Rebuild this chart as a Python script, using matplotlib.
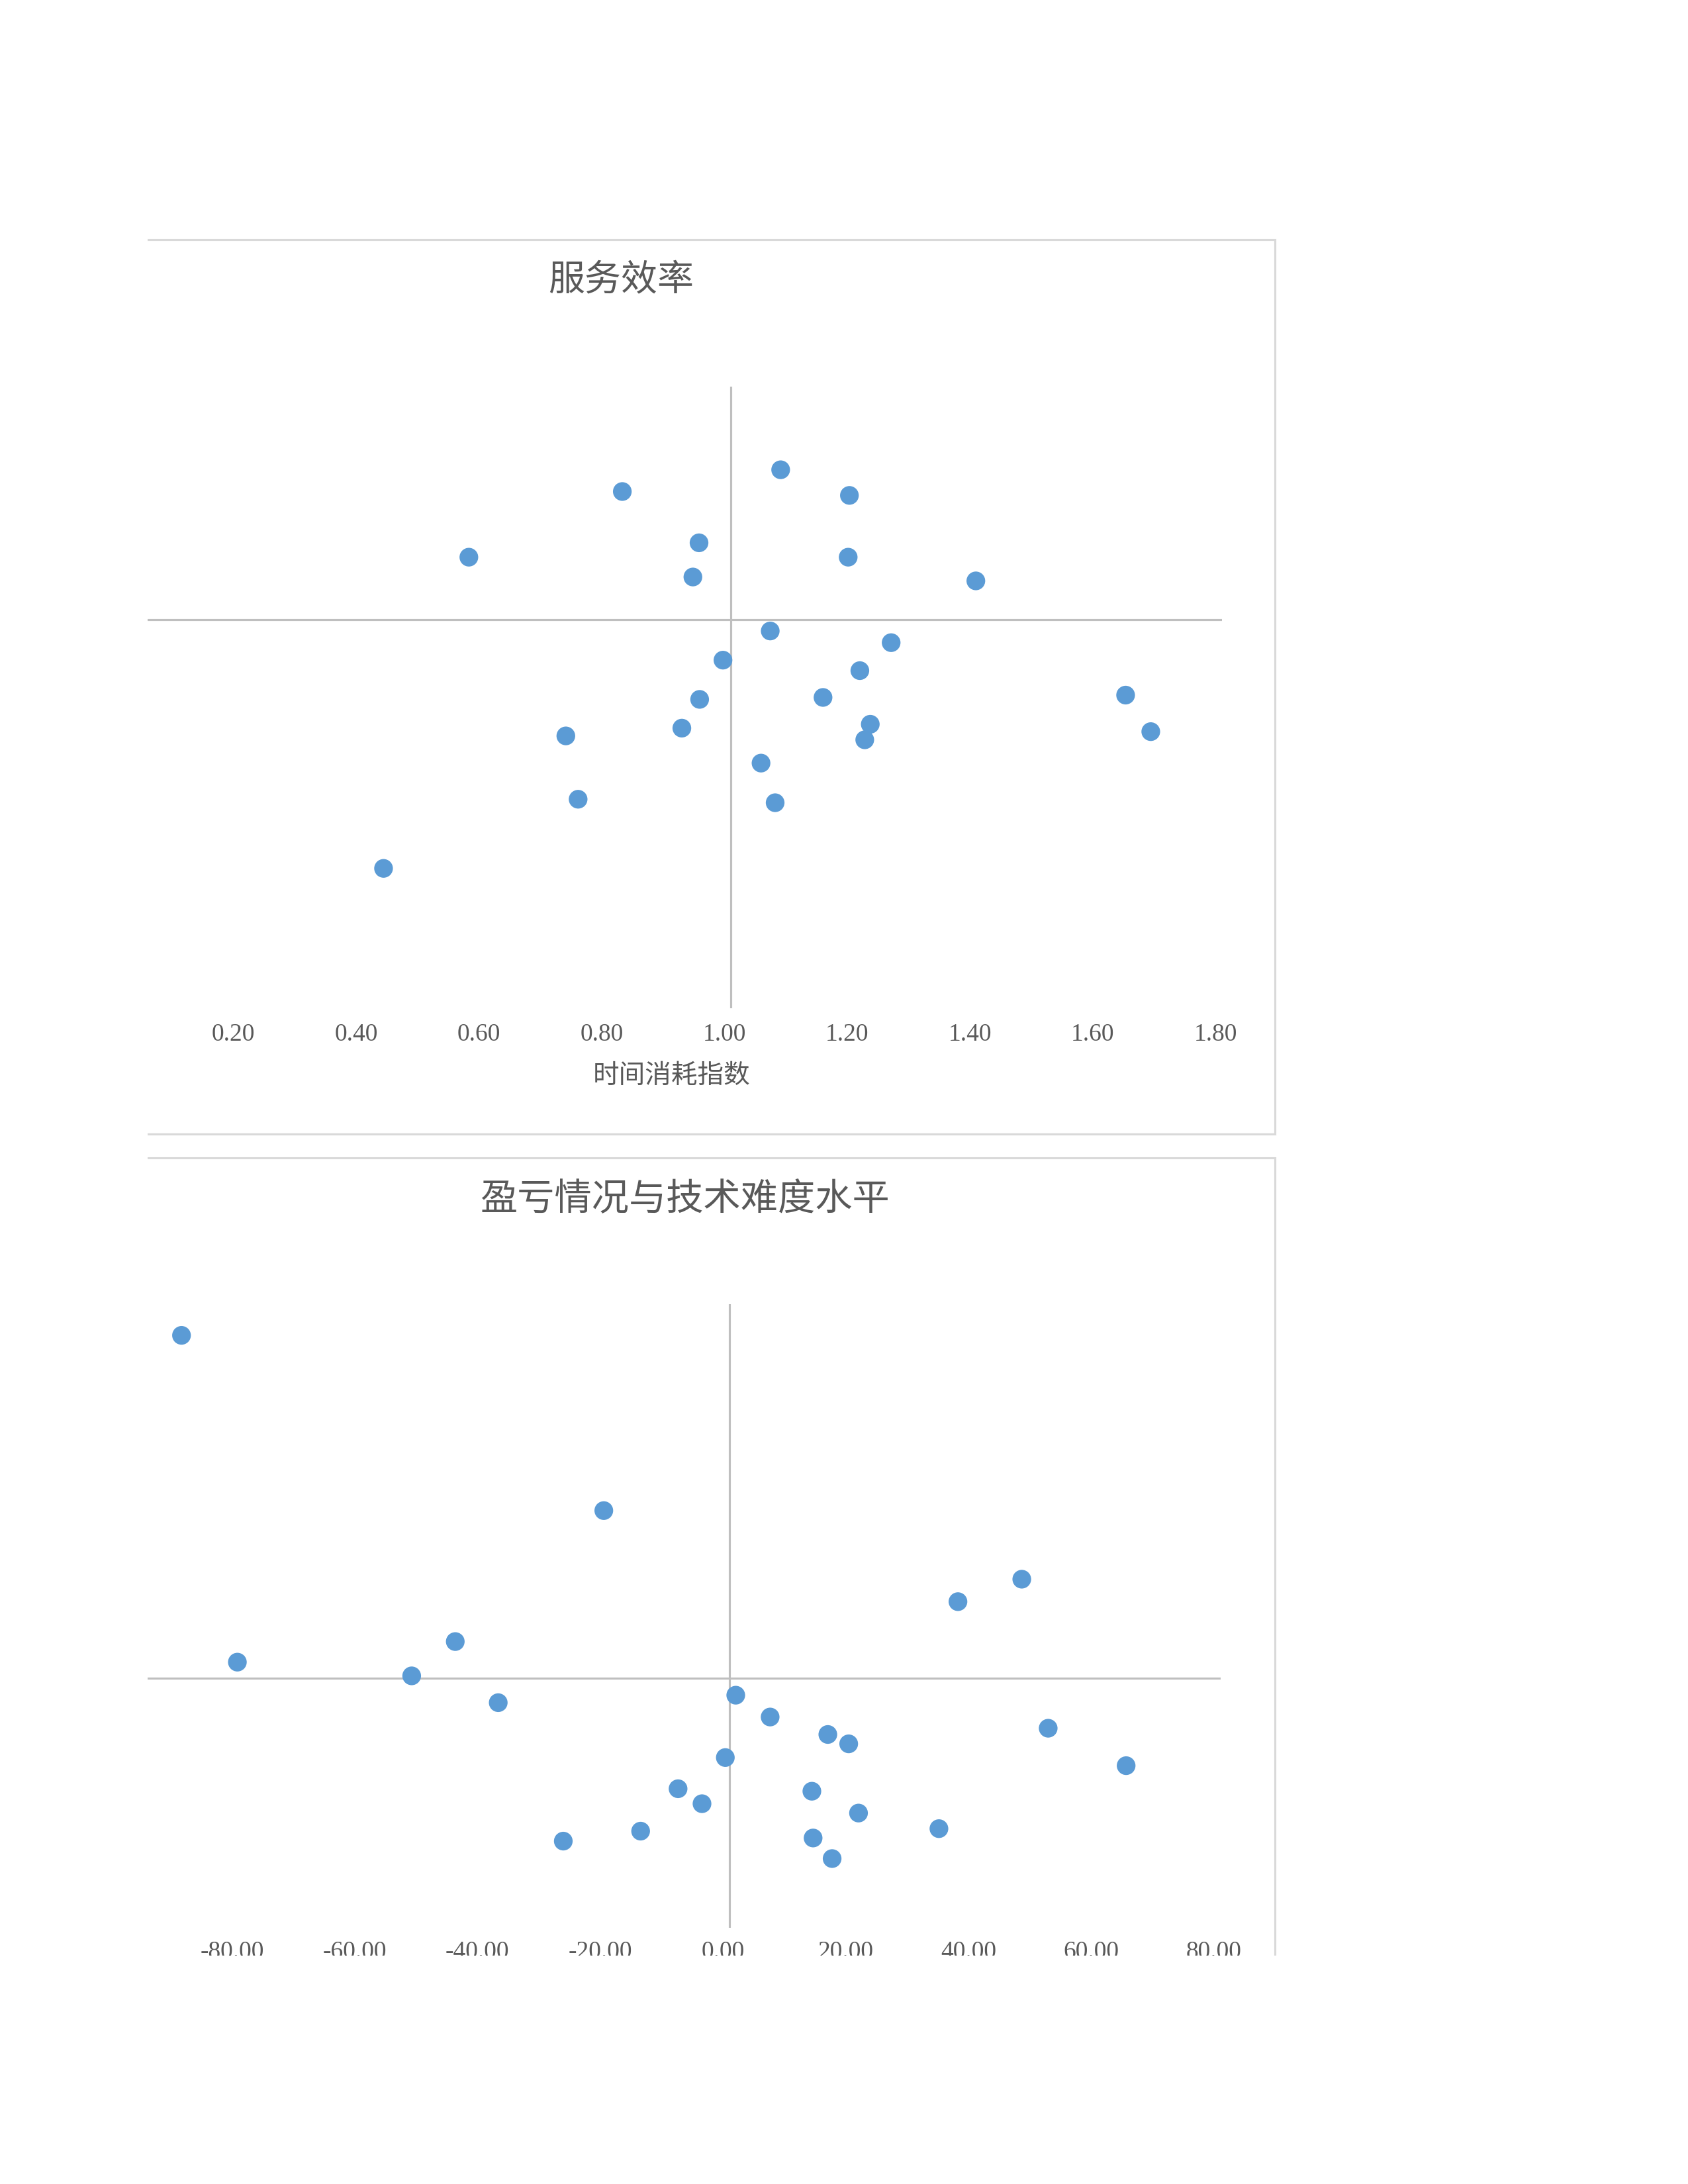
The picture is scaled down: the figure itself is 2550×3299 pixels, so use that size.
import matplotlib
matplotlib.use("Agg")
from matplotlib import pyplot as plt
from matplotlib.patches import Rectangle
from matplotlib.transforms import ScaledTranslation

plt.rcParams['font.family'] = ['Noto Sans CJK SC', 'DejaVu Sans']

# chart 1: 服务效率 (x = 时间消耗指数)
eff_title = "服务效率"
eff_xlabel = "时间消耗指数"
eff_x = [1.081, 0.823, 1.193, 0.948, 0.573, 1.191, 0.938, 1.399, 1.064, 1.261,
         0.987, 1.210, 1.643, 1.150, 0.949, 1.227, 0.920, 1.684, 0.731, 1.218,
         1.049, 0.751, 1.072, 0.434]
eff_y = [1.386, 1.330, 1.320, 1.198, 1.161, 1.161, 1.110, 1.100, 0.971, 0.941,
         0.896, 0.869, 0.806, 0.800, 0.795, 0.731, 0.721, 0.712, 0.701, 0.691,
         0.631, 0.538, 0.529, 0.360]
eff_ticks = [0.0, 0.2, 0.4, 0.6, 0.8, 1.0, 1.2, 1.4, 1.6, 1.8]
eff_ticklabels = ["0.00", "0.20", "0.40", "0.60", "0.80", "1.00", "1.20", "1.40", "1.60", "1.80"]

# chart 2: 盈亏情况与技术难度水平
pl_title = "盈亏情况与技术难度水平"
pl_x = [-89.3, -20.5, 47.6, 37.2, -44.7, -80.2, -51.8, 1.0, -37.7, 6.6,
        51.9, 16.0, 19.4, -0.7, 64.6, -8.4, 13.4, -4.5, 21.0, 34.1,
        -14.5, 13.6, -27.1, 16.7]
pl_y = [5.50, 2.69, 1.59, 1.23, 0.59, 0.26, 0.04, -0.27, -0.39, -0.62,
        -0.80, -0.90, -1.05, -1.27, -1.40, -1.77, -1.81, -2.01, -2.16, -2.41,
        -2.45, -2.56, -2.61, -2.89]
pl_ticks = [-100, -80, -60, -40, -20, 0, 20, 40, 60, 80]
pl_ticklabels = ["-100.00", "-80.00", "-60.00", "-40.00", "-20.00", "0.00",
                 "20.00", "40.00", "60.00", "80.00"]

W, H = 2550, 3299
BLUE = '#5b9bd5'
AXIS = '#bfbfbf'
BORDER = '#d9d9d9'
TEXT = '#595959'


def fx(px):
    return px / W


def fy(py):
    return 1 - py / H


def rect(l, t, r, b):
    return [fx(l), fy(b), (r - l) / W, (b - t) / H]


fig = plt.figure(figsize=(W / 300, H / 300), dpi=300)

# chart borders (left edge sits outside the page crop)
fig.add_artist(Rectangle((fx(150), fy(1713)), (1926 - 150) / W, (1713 - 362) / H,
                         transform=fig.transFigure, fill=False, ec=BORDER, lw=0.75))
fig.add_artist(Rectangle((fx(150), fy(3150)), (1926 - 150) / W, (3150 - 1749) / H,
                         transform=fig.transFigure, fill=False, ec=BORDER, lw=0.75))


def quad_plot(ax, xs, ys, xlim, ylim, xc, yc, ticks, labels, pad):
    ax.set_xlim(*xlim)
    ax.set_ylim(*ylim)
    for s in ax.spines.values():
        s.set_visible(False)
    ax.axvline(xc, color=AXIS, lw=0.75, zorder=1)
    ax.axhline(yc, color=AXIS, lw=0.75, zorder=1)
    ax.scatter(xs, ys, s=46, color=BLUE, edgecolors='none', zorder=3, clip_on=False)
    ax.set_xticks(ticks, labels, family='Liberation Serif', fontsize=9, color=TEXT)
    ax.set_yticks([])
    ax.tick_params(axis='x', length=0, pad=pad)
    # labels sit a little left of their tick positions in the reference
    shift = ScaledTranslation(-10 / 300, 0, fig.dpi_scale_trans)
    for lab in ax.get_xticklabels():
        lab.set_transform(lab.get_transform() + shift)
    ax.patch.set_alpha(0)


ax1 = fig.add_axes(rect(177, 584, 1846, 1523))
quad_plot(ax1, eff_x, eff_y, (0, 1.8), (0, 1.6), 1.0, 1.0, eff_ticks, eff_ticklabels, 5.5)
fig.text(fx(938), fy(424), eff_title, ha='center', va='center', fontsize=13.2, color=TEXT)
fig.text(fx(1015), fy(1625), eff_xlabel, ha='center', va='center', fontsize=9.5, color=TEXT)

ax2 = fig.add_axes(rect(175, 1970, 1844, 2912))
quad_plot(ax2, pl_x, pl_y, (-100, 80), (-4, 6), 0, 0, pl_ticks, pl_ticklabels, 4.8)
fig.text(fx(1035), fy(1812), pl_title, ha='center', va='center', fontsize=13.5, color=TEXT)

# page crop: left strip and bottom are cut off in the reference
fig.add_artist(Rectangle((0, 0), fx(223), 1, transform=fig.transFigure,
                         fc='white', ec='none', zorder=100))
fig.add_artist(Rectangle((0, 0), 1, fy(2954), transform=fig.transFigure,
                         fc='white', ec='none', zorder=100))

fig.savefig('out.png', dpi=300, facecolor='white')
